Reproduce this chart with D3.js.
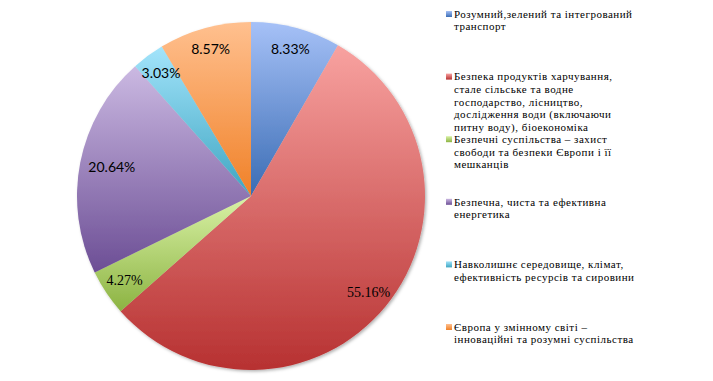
<!DOCTYPE html>
<html>
<head>
<meta charset="utf-8">
<script src="https://cdn.jsdelivr.net/npm/d3@7"></script>
<style>
  body { margin: 0; background: #fff; }
  svg { display: block; }
</style>
</head>
<body>
<script>
// categories (legend lines pre-wrapped as in the picture)
var categories = [
  ["Розумний,зелений та інтегрований", "транспорт"],
  ["Безпека продуктів харчування,", "стале сільське та водне", "господарство, лісництво,", "дослідження води (включаючи", "питну воду), біоекономіка"],
  ["Безпечні суспільства – захист", "свободи та безпеки  Європи і її", "мешканців"],
  ["Безпечна, чиста та ефективна", "енергетика"],
  ["Навколишнє середовище,  клімат,", "ефективність ресурсів та сировини"],
  ["Європа у змінному  світі –", "інноваційні та розумні  суспільства"]
];
var values = [8.33, 55.16, 4.27, 20.64, 3.03, 8.57];
var labels = ["8.33%", "55.16%", "4.27%", "20.64%", "3.03%", "8.57%"];
var lightColors = ["#a6c1f7", "#f8a2a0", "#d9f2a6", "#cbb9e2", "#a3e4fb", "#ffc08f"];
var darkColors = ["#3a6cb4", "#b73131", "#8cb342", "#6c4e95", "#3ea5c1", "#f08128"];

var width = 713, height = 381;
var cx = 251, cy = 196, R = 174;
var serif = "'Liberation Serif', 'DejaVu Serif', 'Times New Roman', serif";

var svg = d3.select("body").append("svg")
  .attr("width", width)
  .attr("height", height);

var defs = svg.append("defs");

var shadow = defs.append("filter").attr("id", "shadow")
  .attr("x", "-10%").attr("y", "-10%").attr("width", "120%").attr("height", "120%");
shadow.append("feDropShadow")
  .attr("dx", 1.5).attr("dy", 1.5).attr("stdDeviation", 1.5)
  .attr("flood-color", "#000").attr("flood-opacity", 0.3);

values.forEach(function(v, i) {
  var g = defs.append("linearGradient").attr("id", "grad" + i)
    .attr("x1", 0).attr("y1", 0).attr("x2", 0).attr("y2", 1);
  g.append("stop").attr("offset", "0%").attr("stop-color", lightColors[i]);
  g.append("stop").attr("offset", "100%").attr("stop-color", darkColors[i]);
});

var pie = d3.pie().sort(null).value(function(d) { return d; });
var arcs = pie(values);
var arc = d3.arc().innerRadius(0).outerRadius(R);
var labelArc = d3.arc().innerRadius(152).outerRadius(152);

var pg = svg.append("g").attr("transform", "translate(" + cx + "," + cy + ")");

pg.append("g").attr("filter", "url(#shadow)")
  .selectAll("path")
  .data(arcs)
  .enter().append("path")
  .attr("d", arc)
  .style("fill", function(d, i) { return "url(#grad" + i + ")"; });

pg.selectAll("text.lbl")
  .data(arcs)
  .enter().append("text")
  .attr("class", "lbl")
  .attr("transform", function(d, i) {
    var c = labelArc.centroid(d);
    if (i == 3) c[0] += 10; // excel pulls this one inward
    return "translate(" + c + ")";
  })
  .attr("text-anchor", "middle")
  .attr("dy", "0.35em")
  .style("font-family", function(d, i) { return (i == 1 || i == 2) ? serif : "Lato, 'Open Sans', sans-serif"; })
  .style("font-size", "14px")
  .style("fill", "#000")
  .text(function(d, i) { return labels[i]; });

// legend
var legendY = d3.scaleLinear().domain([0, categories.length - 1]).range([14, 327]);
var lg = svg.append("g");
categories.forEach(function(lines, i) {
  var y = legendY(i);
  lg.append("rect")
    .attr("x", 446).attr("y", y - 3)
    .attr("width", 6).attr("height", 6)
    .style("fill", "url(#grad" + i + ")");
  var t = lg.append("text")
    .attr("x", 454).attr("y", y)
    .style("font-family", serif)
    .style("font-size", "11px")
    .style("letter-spacing", "0.5px")
    .style("fill", "#000");
  lines.forEach(function(line, j) {
    t.append("tspan")
      .attr("x", 454)
      .attr("dy", j == 0 ? "0.35em" : "12.6px")
      .text(line);
  });
});
</script>
</body>
</html>
